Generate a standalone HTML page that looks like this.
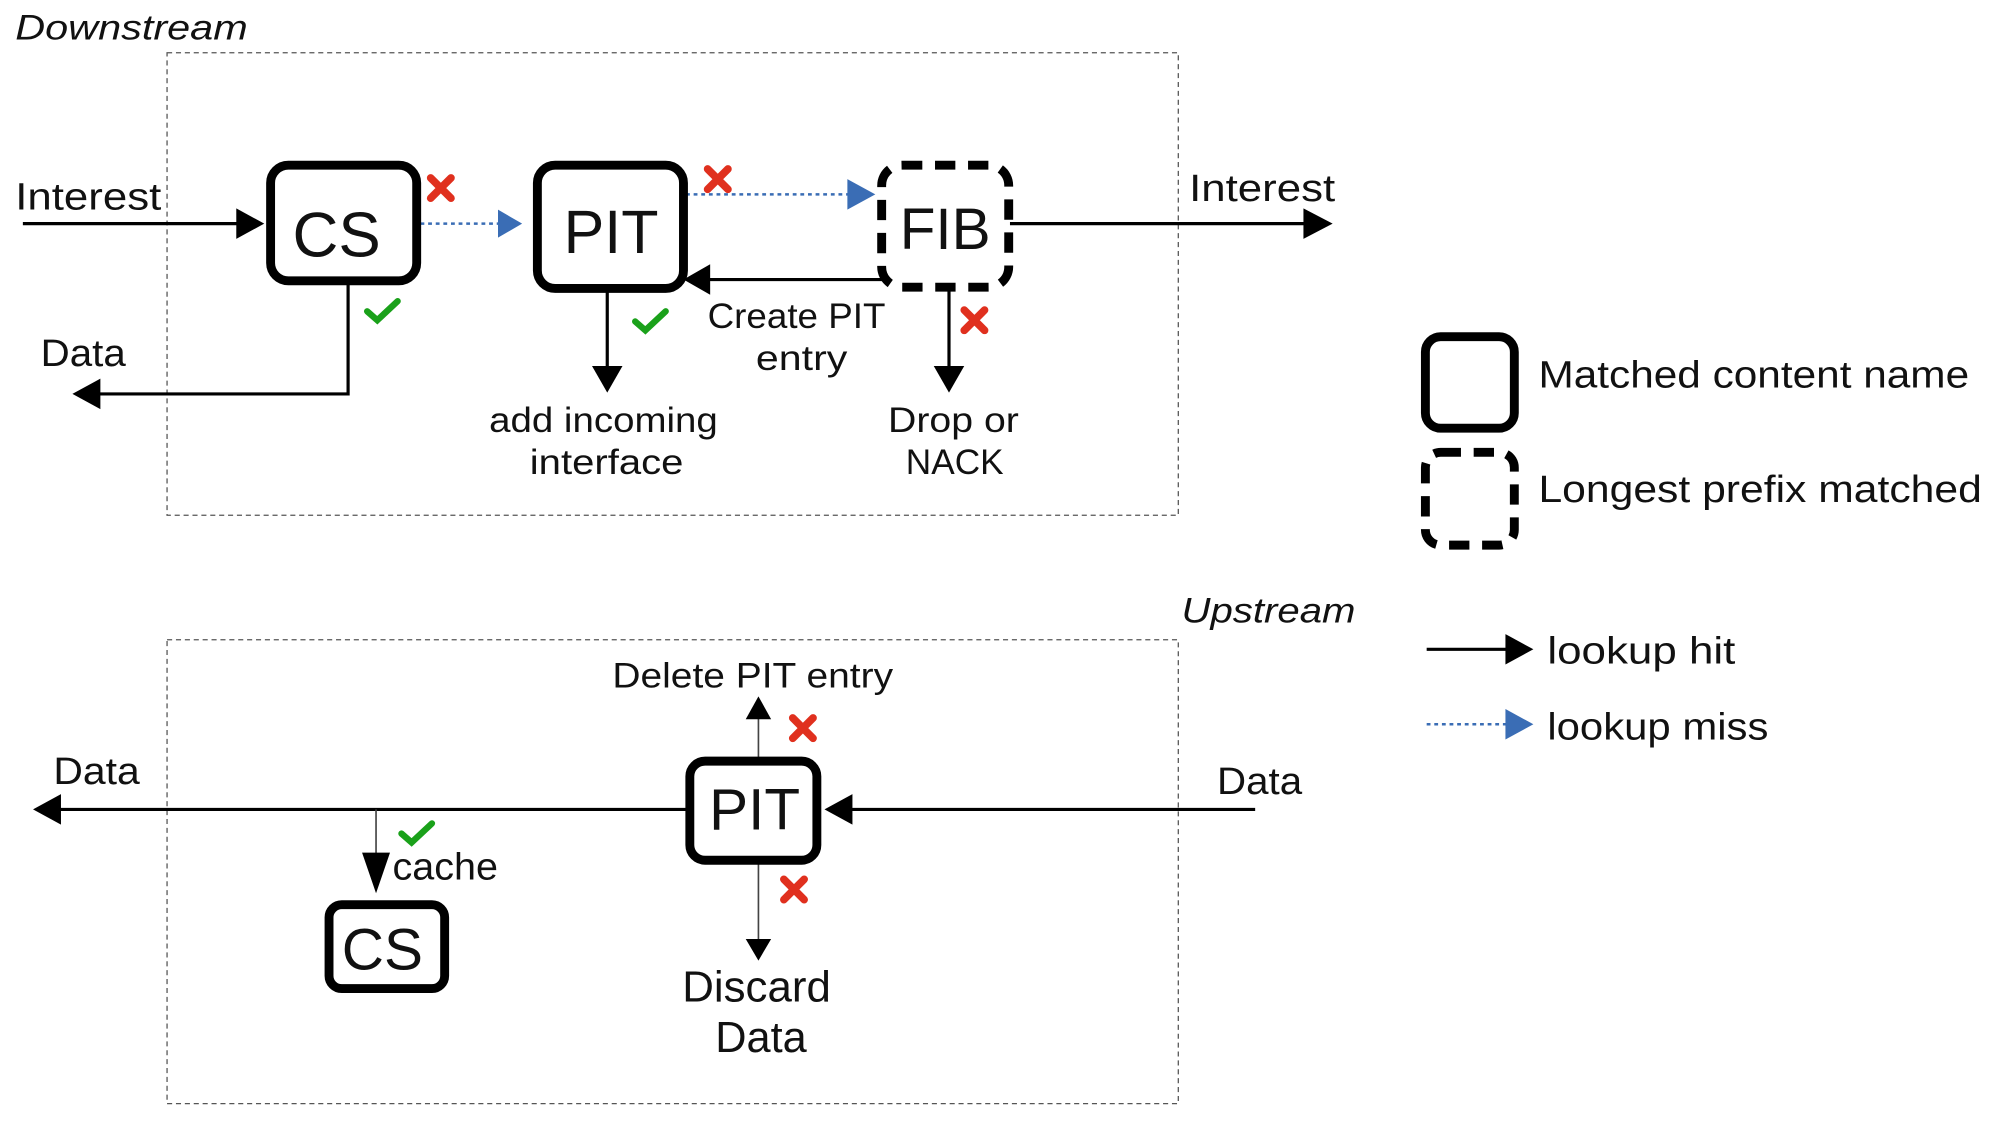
<!DOCTYPE html>
<html><head><meta charset="utf-8"><style>
html,body{margin:0;padding:0;background:#fff;width:1992px;height:1122px;overflow:hidden}
svg{display:block}
text{font-family:"Liberation Sans",sans-serif;fill:#111}
</style></head><body>
<svg width="1992" height="1122" viewBox="0 0 1568 883" preserveAspectRatio="none" xmlns="http://www.w3.org/2000/svg">
<style>
.a{stroke:#000;stroke-width:2.5;fill:none}
.b{stroke:#3a6db5;stroke-width:2;stroke-dasharray:3 3;fill:none}
.t{stroke:#444;stroke-width:1.3;fill:none}
.box{fill:#fff;stroke:#000;stroke-width:7}
.dbox{fill:#fff;stroke:#000;stroke-width:7;stroke-dasharray:16 10}
.chk{stroke:#1aa11a;stroke-width:5;fill:none;stroke-linecap:round}
.x{stroke:#e0301e;stroke-width:6;stroke-linecap:round}
</style>
<!-- frames -->
<rect x="131.5" y="41.5" width="796" height="364" fill="none" stroke="#555" stroke-width="1" stroke-dasharray="4 3"/>
<rect x="131.5" y="503.5" width="796" height="365" fill="none" stroke="#555" stroke-width="1" stroke-dasharray="4 3"/>
<text x="12" y="31" font-size="28" font-style="italic" textLength="183" lengthAdjust="spacingAndGlyphs">Downstream</text>
<text x="930" y="490" font-size="28" font-style="italic" textLength="137" lengthAdjust="spacingAndGlyphs">Upstream</text>

<!-- top connectors -->
<line x1="18" y1="176" x2="200" y2="176" class="a"/>
<path d="M186,164 L208,176 L186,188 z" fill="#000"/>
<text x="12" y="165" font-size="30" textLength="115" lengthAdjust="spacingAndGlyphs">Interest</text>
<line x1="331" y1="176" x2="395" y2="176" class="b"/>
<path d="M392,165 L411,176 L392,187 z" fill="#3a6db5"/>
<line x1="540" y1="153" x2="670" y2="153" class="b"/>
<path d="M667,141 L689,153 L667,165 z" fill="#3a6db5"/>
<line x1="795" y1="176" x2="1030" y2="176" class="a"/>
<path d="M1026,164 L1049,176 L1026,188 z" fill="#000"/>
<text x="936" y="158" font-size="30" textLength="115" lengthAdjust="spacingAndGlyphs">Interest</text>
<line x1="695" y1="220" x2="555" y2="220" class="a"/>
<path d="M559,208 L538,220 L559,232 z" fill="#000"/>
<text x="557" y="258" font-size="28" textLength="140" lengthAdjust="spacingAndGlyphs">Create PIT</text>
<text x="595" y="291" font-size="28" textLength="72" lengthAdjust="spacingAndGlyphs">entry</text>
<polyline points="274,222 274,310 75,310" class="a"/>
<path d="M79,298 L57,310 L79,322 z" fill="#000"/>
<text x="32" y="288" font-size="30" textLength="67" lengthAdjust="spacingAndGlyphs">Data</text>
<line x1="478" y1="230" x2="478" y2="292" class="a"/>
<path d="M466,288 L478,309 L490,288 z" fill="#000"/>
<text x="385" y="340" font-size="28" textLength="180" lengthAdjust="spacingAndGlyphs">add incoming</text>
<text x="417" y="373" font-size="28" textLength="121" lengthAdjust="spacingAndGlyphs">interface</text>
<line x1="747" y1="228" x2="747" y2="292" class="a"/>
<path d="M735,288 L747,309 L759,288 z" fill="#000"/>
<text x="699" y="340" font-size="28" textLength="103" lengthAdjust="spacingAndGlyphs">Drop or</text>
<text x="713" y="373" font-size="28" textLength="77" lengthAdjust="spacingAndGlyphs">NACK</text>

<!-- top boxes -->
<rect x="213" y="130" width="115" height="91" rx="14" class="box"/>
<text x="265" y="202" font-size="50" text-anchor="middle">CS</text>
<rect x="423" y="130" width="115" height="97" rx="14" class="box"/>
<text x="481" y="199" font-size="48" text-anchor="middle">PIT</text>
<rect x="694" y="130" width="100" height="96" rx="16" class="dbox"/>
<text x="744" y="196" font-size="46" text-anchor="middle">FIB</text>

<!-- marks -->
<path d="M289,245 L297,252 L313,237" class="chk"/>
<path d="M500,253 L508,260 L524,245" class="chk"/>
<path d="M339,140 L355,156 M355,140 L339,156" class="x"/>
<path d="M557,133 L573,149 M573,133 L557,149" class="x"/>
<path d="M759,244 L775,260 M775,244 L759,260" class="x"/>

<!-- legend -->
<rect x="1122" y="265" width="70" height="72" rx="12" class="box"/>
<rect x="1122" y="356" width="70" height="73" rx="12" class="dbox"/>
<text x="1211" y="305" font-size="30" textLength="339" lengthAdjust="spacingAndGlyphs">Matched content name</text>
<text x="1211" y="395" font-size="30" textLength="349" lengthAdjust="spacingAndGlyphs">Longest prefix matched</text>
<line x1="1123" y1="511" x2="1190" y2="511" class="a"/>
<path d="M1185,499 L1207,511 L1185,523 z" fill="#000"/>
<text x="1218" y="522" font-size="30" textLength="148" lengthAdjust="spacingAndGlyphs">lookup hit</text>
<line x1="1123" y1="570" x2="1190" y2="570" class="b"/>
<path d="M1185,558 L1207,570 L1185,582 z" fill="#3a6db5"/>
<text x="1218" y="582" font-size="30" textLength="174" lengthAdjust="spacingAndGlyphs">lookup miss</text>

<!-- bottom -->
<line x1="988" y1="637" x2="668" y2="637" class="a"/>
<path d="M671,625 L649,637 L671,649 z" fill="#000"/>
<text x="958" y="625" font-size="30" textLength="67" lengthAdjust="spacingAndGlyphs">Data</text>
<line x1="541" y1="637" x2="45" y2="637" class="a"/>
<path d="M48,625 L26,637 L48,649 z" fill="#000"/>
<text x="42" y="617" font-size="30" textLength="68" lengthAdjust="spacingAndGlyphs">Data</text>
<line x1="597" y1="596" x2="597" y2="562" class="t"/>
<path d="M587,566 L597,548 L607,566 z" fill="#000"/>
<text x="482" y="541" font-size="28" textLength="221" lengthAdjust="spacingAndGlyphs">Delete PIT entry</text>
<line x1="597" y1="680" x2="597" y2="742" class="t"/>
<path d="M587,739 L597,756 L607,739 z" fill="#000"/>
<text x="537" y="788" font-size="34" textLength="117" lengthAdjust="spacingAndGlyphs">Discard</text>
<text x="563" y="828" font-size="34" textLength="72" lengthAdjust="spacingAndGlyphs">Data</text>
<line x1="296" y1="637" x2="296" y2="675" class="t"/>
<path d="M285,671 L296,703 L307,671 z" fill="#000"/>
<text x="309" y="692" font-size="30" textLength="83" lengthAdjust="spacingAndGlyphs">cache</text>
<path d="M316,656 L324,663 L340,648" class="chk"/>
<path d="M624,565 L640,581 M640,565 L624,581" class="x"/>
<path d="M617,692 L633,708 M633,692 L617,708" class="x"/>
<rect x="543" y="599" width="100" height="78" rx="12" class="box"/>
<text x="594" y="653" font-size="46" text-anchor="middle">PIT</text>
<rect x="259" y="712" width="91" height="66" rx="10" class="box"/>
<text x="301" y="763" font-size="46" text-anchor="middle">CS</text>
</svg>
</body></html>
